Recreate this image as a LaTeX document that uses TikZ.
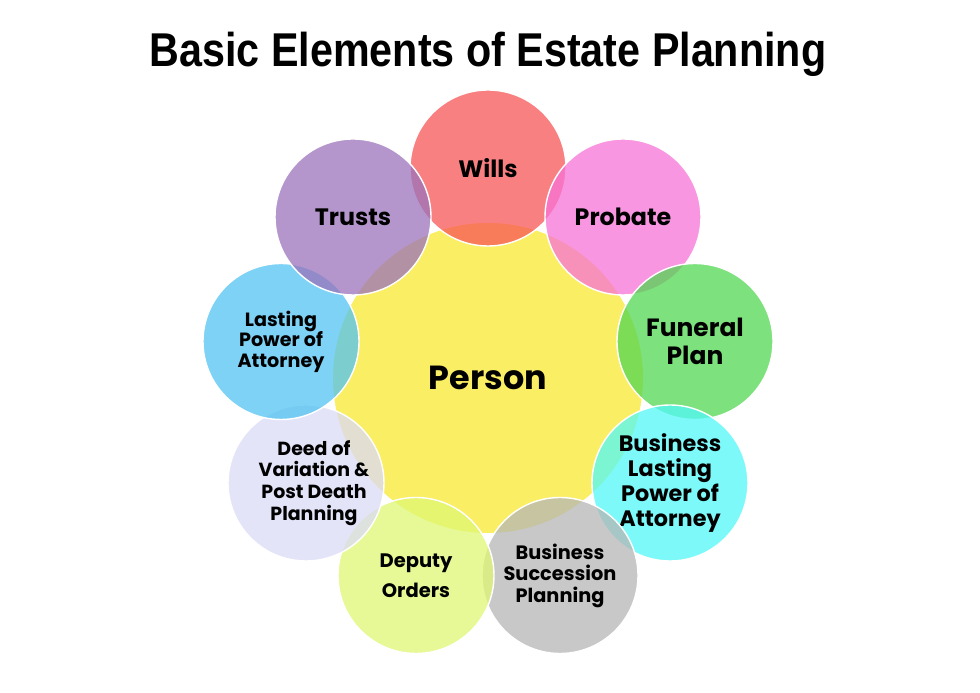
\documentclass[tikz,border=0pt]{standalone}
\usepackage{fontspec}
\setmainfont{Poppins}
\newfontfamily\titlefont{Liberation Sans}
\usetikzlibrary{%
  shapes,%
  positioning,% wg. " of "
  calc
}
\definecolor{willsc}{RGB}{248,86,86}
\definecolor{probatec}{RGB}{248,115,215}
\definecolor{funeralc}{RGB}{82,215,82}
\definecolor{blpac}{RGB}{82,248,248}
\definecolor{bsuccc}{RGB}{182,182,182}
\definecolor{deputyc}{RGB}{222,248,115}
\definecolor{deedc}{RGB}{219,219,248}
\definecolor{lpac}{RGB}{82,195,242}
\definecolor{trustsc}{RGB}{155,115,188}
\definecolor{personc}{RGB}{250,238,100}

\begin{document}
\begin{tikzpicture}
[line width=0.8pt,
person/.style={circle, fill=personc, inner sep=0pt, minimum size=6.2cm, font=\bfseries\fontsize{19}{22}\selectfont},
petal/.style={circle, draw=white, fill opacity=0.75, text opacity=1, inner sep=0pt, minimum size=3.12cm, align=center, font=\bfseries\fontsize{13.5}{16}\selectfont}]

\useasboundingbox[fill=white] (0,0) rectangle (19.6,13.86);

\node (title) at (9.76,12.52) [anchor=base] {\scalebox{0.87}[1]{\titlefont\bfseries\fontsize{27}{30}\selectfont Basic Elements of Estate Planning}};

\node[person] (p0) at (9.76,6.30) {Person};

\node[petal, fill=willsc] (c1) at (9.76,10.50) {Wills};
\node[petal, fill=probatec] (c2) at (12.46,9.52) {Probate};
\node[petal, fill=funeralc, font=\bfseries\fontsize{14.2}{16}\selectfont] (c3) at (13.90,7.03) {Funeral\\Plan};
\node[petal, fill=blpac, font=\bfseries\fontsize{12.7}{14.2}\selectfont] (c4) at (13.40,4.20) {Business\\Lasting\\Power of\\Attorney};
\node[petal, fill=bsuccc, font=\bfseries\fontsize{11}{12.2}\selectfont] (c5) at (11.20,2.35) {Business\\Succession\\Planning};
\node[petal, fill=deputyc, font=\bfseries\fontsize{11.1}{17}\selectfont] (c6) at (8.32,2.35) {Deputy\\Orders};
\node[petal, fill=deedc, font=\bfseries\fontsize{10.8}{12.4}\selectfont] (c7) at (6.12,4.20) {\hspace*{0.32cm}Deed of\\\hspace*{0.32cm}Variation \&\\\hspace*{0.32cm}Post Death\\\hspace*{0.32cm}Planning};
\node[petal, fill=lpac, font=\bfseries\fontsize{10.9}{11.6}\selectfont] (c8) at (5.62,7.03) {Lasting\\Power of\\Attorney};
\node[petal, fill=trustsc] (c9) at (7.06,9.52) {Trusts};
\end{tikzpicture}
\end{document}
